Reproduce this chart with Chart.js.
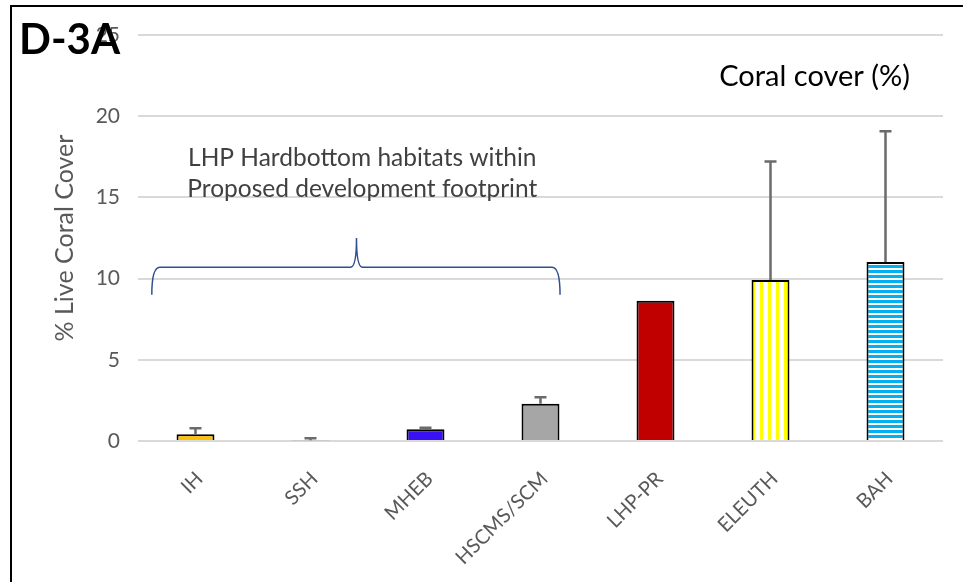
<!DOCTYPE html>
<html>
<head>
<meta charset="utf-8">
<script src="https://cdn.jsdelivr.net/npm/chart.js@4.4.0/dist/chart.umd.min.js"></script>
<style>
  body { margin: 0; background: #fff; }
  canvas { display: block; }
</style>
</head>
<body>
<canvas id="coral" width="963" height="582"></canvas>
<script>
const sites = ["IH", "SSH", "MHEB", "HSCMS/SCM", "LHP-PR", "ELEUTH", "BAH"];
const coverMean = [0.41, 0.05, 0.72, 2.3, 8.64, 9.91, 11.02];
const coverErr = [0.37, 0.12, 0.1, 0.4, 0, 7.3, 8.05];
const yTicks = [0, 5, 10, 15, 20, 25];

const FONT = "Lato, 'Open Sans', sans-serif";

function stripes(w, h, color, vertical, band) {
    const c = document.createElement("canvas");
    c.width = w; c.height = h;
    const g = c.getContext("2d");
    g.fillStyle = "#ffffff";
    g.fillRect(0, 0, w, h);
    g.fillStyle = color;
    if (vertical) g.fillRect(0, 0, band, h);
    else g.fillRect(0, 0, w, band);
    return g.createPattern(c, "repeat");
}

const fills = [
    "#ffc000",
    "#3a3a3a",
    "#3a10f5",
    "#a6a6a6",
    "#c00000",
    stripes(8, 8, "#ffff00", true, 3),
    stripes(5, 5, "#00b0f0", false, 3)
];

// error bars, brace and loose text
const extras = {
    id: "extras",
    beforeDraw(chart) {
        const ctx = chart.ctx;
        ctx.save();
        ctx.fillStyle = "#fff";
        ctx.fillRect(0, 0, chart.width, chart.height);
        ctx.restore();
    },
    afterDatasetsDraw(chart) {
        const ctx = chart.ctx;
        const x = chart.scales.x, y = chart.scales.y;
        const meta = chart.getDatasetMeta(0);
        ctx.save();
        ctx.strokeStyle = "#6b6b6b";
        ctx.lineWidth = 2.5;
        meta.data.forEach((bar, i) => {
            if (!coverErr[i]) return;
            const top = y.getPixelForValue(coverMean[i] + coverErr[i]);
            ctx.beginPath();
            ctx.moveTo(bar.x, bar.y);
            ctx.lineTo(bar.x, top);
            ctx.moveTo(bar.x - 6, top);
            ctx.lineTo(bar.x + 6, top);
            ctx.stroke();
        });

        // brace over the footprint habitats
        const bl = x.getPixelForValue(-0.38), br = x.getPixelForValue(3.17);
        const bm = x.getPixelForValue(1.40);
        const yb = y.getPixelForValue(10.7), ye = y.getPixelForValue(9.0), yp = y.getPixelForValue(12.5);
        ctx.strokeStyle = "#2f4f8f";
        ctx.lineWidth = 1.5;
        ctx.beginPath();
        ctx.moveTo(bl, ye);
        ctx.quadraticCurveTo(bl, yb, bl + 8, yb);
        ctx.lineTo(bm - 6, yb);
        ctx.quadraticCurveTo(bm, yb, bm, yp);
        ctx.quadraticCurveTo(bm, yb, bm + 6, yb);
        ctx.lineTo(br - 8, yb);
        ctx.quadraticCurveTo(br, yb, br, ye);
        ctx.stroke();

        ctx.fillStyle = "#404040";
        ctx.font = "24.5px " + FONT;
        ctx.textAlign = "center";
        ctx.textBaseline = "middle";
        const tx = x.getPixelForValue(1.45);
        ctx.fillText("LHP Hardbottom habitats within", tx, y.getPixelForValue(17.4));
        ctx.fillText("Proposed development footprint", tx, y.getPixelForValue(15.5));

        ctx.fillStyle = "#000";
        ctx.font = "29px " + FONT;
        ctx.textAlign = "right";
        ctx.fillText("Coral cover (%)", 910, 77);

        ctx.font = "bold 42px " + FONT;
        ctx.textAlign = "left";
        ctx.fillText("D-3A", 19, 40);

        ctx.fillStyle = "#000";
        ctx.fillRect(10, 5, 2, chart.height);
        ctx.fillRect(10, 5, chart.width, 2);
        ctx.restore();
    }
};

new Chart(document.getElementById("coral"), {
    type: "bar",
    data: {
        labels: sites,
        datasets: [{
            data: coverMean,
            backgroundColor: fills,
            borderColor: "#000",
            borderWidth: 2,
            borderSkipped: "bottom",
            barPercentage: 0.33,
            categoryPercentage: 1
        }]
    },
    options: {
        responsive: false,
        animation: false,
        layout: { padding: { left: 12, right: 20, top: 35, bottom: 0 } },
        plugins: {
            legend: { display: false },
            tooltip: { enabled: false }
        },
        scales: {
            x: {
                grid: { display: false },
                border: { display: false },
                ticks: {
                    color: "#595959",
                    font: { family: FONT, size: 20 },
                    minRotation: 45,
                    maxRotation: 45,
                    padding: 18,
                    labelOffset: 4
                },
                afterFit: s => { s.height = 141; }
            },
            y: {
                min: 0,
                max: 25,
                afterBuildTicks: s => { s.ticks = yTicks.map(v => ({ value: v })); },
                grid: { color: "#d9d9d9", lineWidth: 2, drawTicks: false },
                border: { display: false },
                ticks: {
                    color: "#595959",
                    font: { family: FONT, size: 21 },
                    padding: 18
                },
                title: {
                    display: true,
                    text: "% Live Coral Cover",
                    color: "#595959",
                    font: { family: FONT, size: 25 },
                    padding: { top: 38, bottom: 0 }
                },
                afterFit: s => { s.width = 126; }
            }
        }
    },
    plugins: [extras]
});
</script>
</body>
</html>
